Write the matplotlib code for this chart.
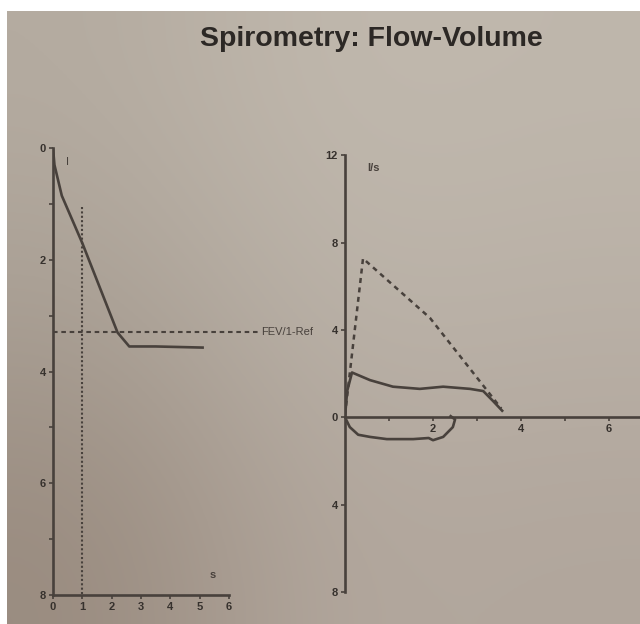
import numpy as np
import matplotlib.pyplot as plt
import matplotlib.ticker as mticker
from matplotlib.colors import to_rgb

plt.rcParams['font.family'] = ['Liberation Sans', 'DejaVu Sans']

ink = '#48413c'

# volume-time curve (s, litres)
vt_time = [0.0, 0.05, 0.3, 1.0, 2.2, 2.6, 3.5, 5.1]
vt_vol = [0.0, 0.3, 0.85, 1.7, 3.3, 3.55, 3.55, 3.57]
fev_ref = 3.3
fev1_time = 1.0
fev1_vol = 1.05

# flow-volume loop (litres, l/s)
pred_vol = [0.0, 0.41, 1.93, 3.55]
pred_flow = [0.1, 7.27, 4.55, 0.4]
exp_vol = [0.0, 0.05, 0.16, 0.57, 1.09, 1.7, 2.23, 2.84, 3.14, 3.36, 3.57]
exp_flow = [0.0, 1.2, 2.05, 1.7, 1.4, 1.3, 1.4, 1.3, 1.2, 0.75, 0.3]
insp_vol = [0.0, 0.11, 0.3, 0.57, 0.95, 1.55, 1.9, 2.0, 2.23, 2.45, 2.5, 2.4]
insp_flow = [0.0, -0.45, -0.8, -0.9, -1.0, -1.0, -0.95, -1.05, -0.9, -0.45, -0.1, 0.05]

fig = plt.figure(figsize=(6.4, 6.24), dpi=100)
fig.patch.set_facecolor('white')

# paper tone: a little darker towards the lower left
shade = np.array([[to_rgb('#b4aba0'), to_rgb('#c1b9ae'), to_rgb('#bfb7ac')],
                  [to_rgb('#a89e93'), to_rgb('#bbb3a9'), to_rgb('#b9b0a6')],
                  [to_rgb('#998b7f'), to_rgb('#b3a89e'), to_rgb('#b1a69c')]])
bg = fig.add_axes([7 / 640, 0, 1 - 7 / 640, 1 - 11 / 624], zorder=-10)
bg.imshow(shade, aspect='auto', interpolation='bicubic', extent=(0, 1, 0, 1))
bg.set_axis_off()

fig.text(0.58, 0.937, 'Spirometry: Flow-Volume', ha='center', va='center',
         fontsize=20.5, fontweight='bold', color='#2c2825')

# --- left: volume vs time ---
ax1 = fig.add_axes([0.0828, 0.0465, 0.275, 0.716])
ax1.set_facecolor('none')
ax1.plot(vt_time, vt_vol, color=ink, lw=1.9)
ax1.plot([0, 7.0], [fev_ref, fev_ref], color=ink, lw=1.5, ls=(0, (2.2, 1.8)), clip_on=False)
ax1.plot([fev1_time, fev1_time], [fev1_vol, 8], color=ink, lw=1.5, ls=(0, (1, 1.1)))
ax1.text(7.1, fev_ref, 'FEV/1-Ref', fontsize=8, color=ink, va='center', ha='left')
ax1.text(0.5, 0.25, 'I', fontsize=8, color=ink, va='center', ha='center')
ax1.text(5.45, 7.65, 's', fontsize=8, fontweight='bold', color=ink, va='center', ha='center')

ax1.set_xlim(0, 6)
ax1.set_ylim(8, 0)
ax1.set_xticks(range(0, 7))
ax1.set_yticks([0, 2, 4, 6, 8])
ax1.yaxis.set_minor_locator(mticker.FixedLocator([1, 3, 5, 7]))

# --- right: flow vs volume ---
ax2 = fig.add_axes([0.539, 0.0513, 0.461, 0.700])
ax2.set_facecolor('none')
ax2.plot(pred_vol, pred_flow, color=ink, lw=1.8, ls=(0, (2, 1.8)))
ax2.plot(exp_vol, exp_flow, color=ink, lw=1.9)
ax2.plot(insp_vol, insp_flow, color=ink, lw=1.9)
ax2.text(0.64, 11.4, 'l/s', fontsize=8, fontweight='bold', color=ink, va='center', ha='center')

ax2.set_xlim(0, 6.7)
ax2.set_ylim(-8, 12)
ax2.spines['bottom'].set_position(('data', 0))
ax2.set_xticks([2, 4, 6])
ax2.xaxis.set_minor_locator(mticker.FixedLocator([1, 3, 5]))
flow_ticks = [-8, -4, 0, 4, 8, 12]
ax2.set_yticks(flow_ticks)
ax2.set_yticklabels([str(abs(v)) for v in flow_ticks])

for ax in (ax1, ax2):
    for side in ('top', 'right'):
        ax.spines[side].set_visible(False)
    for side in ('left', 'bottom'):
        ax.spines[side].set_color(ink)
        ax.spines[side].set_linewidth(1.9)
    ax.tick_params(which='both', direction='out', color=ink, labelcolor='#36312d',
                   labelsize=8, width=1.2, length=3, pad=2)
    ax.tick_params(which='minor', length=3)
    for lbl in ax.get_xticklabels() + ax.get_yticklabels():
        lbl.set_fontweight('bold')

fig.savefig('out.png', dpi=100, facecolor=fig.get_facecolor())
